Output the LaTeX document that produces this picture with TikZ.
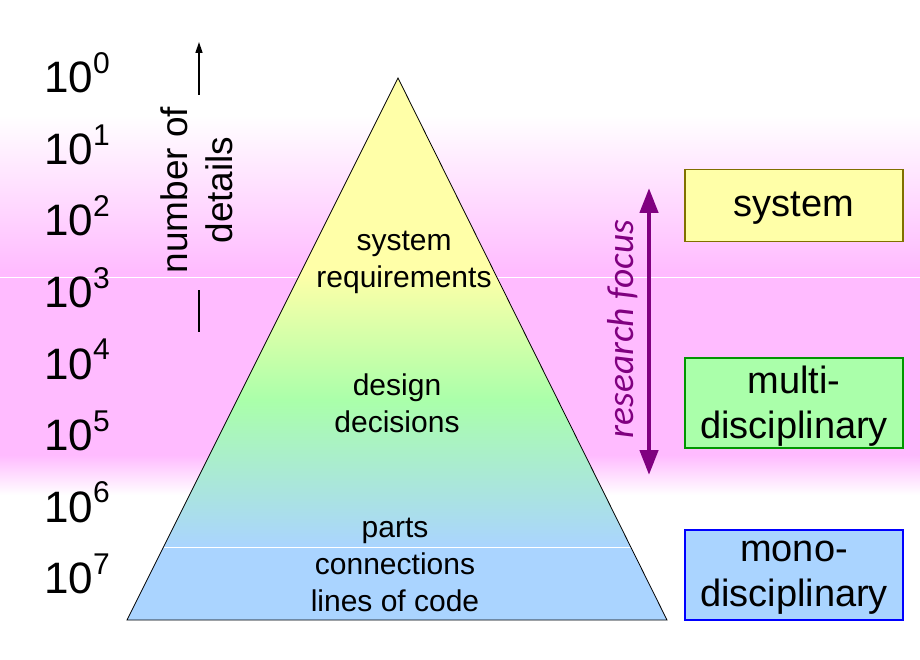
\documentclass[tikz,border=0pt]{standalone}
\usepackage{fontspec}
\setmainfont{Liberation Sans}
\newfontfamily\calfont{Carlito}
\usetikzlibrary{arrows.meta}
\definecolor{pinkbg}{RGB}{255,187,255}
\definecolor{pyel}{RGB}{255,255,168}
\definecolor{pgrn}{RGB}{170,255,170}
\definecolor{pblu}{RGB}{170,212,255}
\definecolor{olivebd}{RGB}{128,112,0}
\definecolor{greenbd}{RGB}{0,150,0}
\definecolor{bluebd}{RGB}{0,0,255}
\definecolor{purp}{RGB}{128,0,128}
\tikzset{
  ptext/.style={align=center, inner sep=0pt, font=\fontsize{30}{37}\selectfont},
  rbox/.style={draw, line width=1.3pt, minimum width=218pt, inner sep=0pt},
  rtext/.style={align=center, inner sep=0pt, font=\fontsize{38}{45}\selectfont},
  expo/.style={anchor=base west, inner sep=0pt, font=\fontsize{44}{44}\selectfont},
}
\newcommand{\tenp}[1]{10\raisebox{0.44em}{\fontsize{30}{30}\selectfont #1}}
\begin{document}
\begin{tikzpicture}[x=1pt,y=-1pt]
\useasboundingbox (0,0) rectangle (920,660);
\fill[white] (0,0) rectangle (920,660);
% background bands
\shade[top color=white,bottom color=pinkbg] (0,115) rectangle (920,272);
\fill[pinkbg] (0,271) rectangle (920,456);
\shade[top color=pinkbg,bottom color=white] (0,455) rectangle (920,495);
\draw[white,line width=0.8pt] (0,277) -- (920,277);
% pyramid
\begin{scope}
\clip (398,78) -- (667,620) -- (127,620) -- cycle;
\fill[pyel] (120,70) rectangle (680,273);
\shade[top color=pyel,bottom color=pgrn] (120,272) rectangle (680,401);
\shade[top color=pgrn,bottom color=pblu] (120,400) rectangle (680,548);
\fill[pblu] (120,547) rectangle (680,625);
\draw[white,line width=0.7pt] (120,547) -- (680,547);
\end{scope}
\draw[line width=0.8pt] (398,78) -- (667,620) -- (127,620) -- cycle;
% pyramid texts
\node[ptext] (req) at (404,262) {system\\requirements};
\node[ptext] (dd) at (397,403) {design\\decisions};
\node[ptext] (parts) at (395,565) {parts\\connections\\lines of code};
% exponent labels
\foreach \i in {0,...,7} {
  \node[expo] (e\i) at (44,{93+71.5*\i}) {\tenp{\i}};
}
% number of details
\node[rotate=90, align=center, inner sep=0pt, font=\fontsize{37}{45}\selectfont] (nd) at (197,190) {number of\\details};
\coordinate (nda) at (199,95);
\coordinate (ndb) at (199,42);
\coordinate (ndc) at (199,290);
\coordinate (ndd) at (199,332);
\draw[line width=1.5pt,-{Triangle[length=11pt,width=7pt]}] (nda) -- (ndb);
\draw[line width=1.5pt] (ndc) -- (ndd);
% research focus
\coordinate (rf1) at (649,475);
\coordinate (rf2) at (649,188);
\draw[purp,line width=4.5pt,{Triangle[length=25pt,width=18pt]}-{Triangle[length=25pt,width=18pt]}] (rf1) -- (rf2);
\node[rotate=90, inner sep=0pt, text=purp, font=\calfont\itshape\fontsize{37.5}{40}\selectfont] (rf) at (623,329) {research focus};
% right boxes
\node[rbox, draw=olivebd, fill=pyel, minimum height=72pt] (sys) at (794,205.5) {};
\node[rbox, draw=greenbd, fill=pgrn, minimum height=90pt] (multi) at (794,403) {};
\node[rbox, draw=bluebd, fill=pblu, minimum height=90pt] (mono) at (794,575) {};
\node[rtext] (syst) at ([yshift=-3pt]sys.center) {system};
\node[rtext] (multit) at ([yshift=-3pt]multi.center) {multi-\\disciplinary};
\node[rtext] (monot) at ([yshift=-3pt]mono.center) {mono-\\disciplinary};
\end{tikzpicture}
\end{document}
